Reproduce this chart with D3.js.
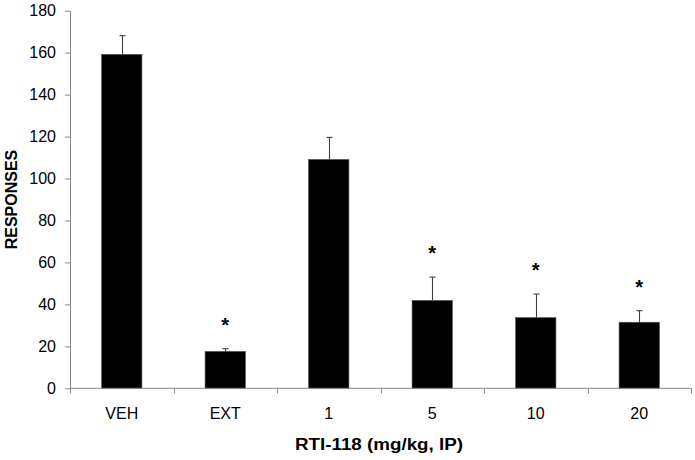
<!DOCTYPE html>
<html><head><meta charset="utf-8">
<script src="https://cdn.jsdelivr.net/npm/d3@7"></script>
<style>body{margin:0;background:#fff}svg{display:block;font-family:"Liberation Sans",Arial,sans-serif}</style>
</head><body><svg id="c" width="695" height="460"></svg>
<script>
const categories = ["VEH","EXT","1","5","10","20"];
const means = [159.2, 17.6, 109.1, 41.9, 33.7, 31.5];
const errors = [8.9, 1.3, 10.5, 11.1, 11.2, 5.5];
const significant = [false, true, false, true, true, true];
const yTicks = [0,20,40,60,80,100,120,140,160,180];

const svg = d3.select("#c");
const m = {left:70, right:4, top:10.7, bottom:71.7};
const W = 695, H = 460;
const x = d3.scaleBand().domain(categories).range([m.left, W - m.right]).paddingInner(0.61).paddingOuter(0.305);
const xb = d3.scaleBand().domain(categories).range([m.left, W - m.right]);
const y = d3.scaleLinear().domain([0,180]).range([H - m.bottom, m.top]);
const axisColor = "#868686";

// bars
svg.append("g").selectAll("rect").data(categories).join("rect")
  .attr("x", d => x(d)).attr("width", x.bandwidth())
  .attr("y", (d,i) => y(means[i])).attr("height", (d,i) => y(0) - y(means[i]))
  .attr("fill", "#000").attr("stroke", "#555").attr("stroke-width", 0.6);

// error bars (upper)
const eg = svg.append("g").attr("stroke", "#404040").attr("stroke-width", 1.1);
categories.forEach((c,i) => {
  const cx = Math.round(x(c) + x.bandwidth()/2) + 0.5;
  eg.append("line").attr("x1", cx).attr("x2", cx).attr("y1", y(means[i])).attr("y2", y(means[i]+errors[i]));
  eg.append("line").attr("x1", cx-3).attr("x2", cx+3).attr("y1", y(means[i]+errors[i])).attr("y2", y(means[i]+errors[i]));
});

// stars
svg.append("g").selectAll("text").data(categories.filter((c,i)=>significant[i])).join("text")
  .attr("x", d => x(d) + x.bandwidth()/2)
  .attr("y", d => { const i = categories.indexOf(d); return y(means[i]+errors[i]) - 17; })
  .attr("text-anchor","middle").attr("font-size", 20).attr("font-weight","bold").text("*");

// y axis
const ya = svg.append("g").attr("transform", `translate(${m.left},0)`)
  .call(d3.axisLeft(y).tickValues(yTicks).tickSize(5).tickPadding(9).tickSizeOuter(0));
ya.select(".domain").attr("stroke", axisColor);
ya.selectAll(".tick line").attr("stroke", axisColor);
ya.selectAll("text").attr("font-size", 16).attr("fill","#000").attr("font-family","Liberation Sans, Arial, sans-serif");

// x axis
const xa = svg.append("g").attr("transform", `translate(0,${y(0)})`);
xa.append("line").attr("x1", m.left).attr("x2", W - m.right).attr("stroke", axisColor);
const bounds = categories.map(c => xb(c)).concat([xb(categories[categories.length-1]) + xb.bandwidth()]);
xa.selectAll(".tk").data(bounds).join("line").attr("class","tk")
  .attr("x1", d => Math.round(d)+0.5).attr("x2", d => Math.round(d)+0.5).attr("y1", 0).attr("y2", 5).attr("stroke", axisColor);
xa.selectAll("text").data(categories).join("text")
  .attr("x", d => xb(d) + xb.bandwidth()/2).attr("y", 31)
  .attr("text-anchor","middle").attr("font-size", 16).text(d => d);

// titles
svg.append("text").attr("x", 379).attr("y", 450)
  .attr("text-anchor","middle").attr("font-size", 16).attr("font-weight","bold")
  .attr("textLength", 168).attr("lengthAdjust","spacingAndGlyphs").text("RTI-118 (mg/kg, IP)");
svg.append("text").attr("transform", `translate(17,${(y(0)+y(180))/2}) rotate(-90)`)
  .attr("text-anchor","middle").attr("font-size", 16).attr("font-weight","bold").text("RESPONSES");
</script></body></html>
